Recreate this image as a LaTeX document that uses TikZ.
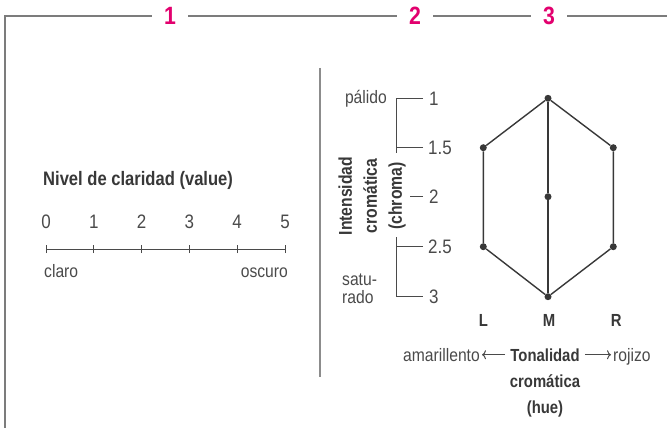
\documentclass[tikz,border=0pt]{standalone}
\usepackage{fontspec}
\setmainfont{Liberation Sans}[FakeStretch=0.87]
\newfontfamily\condbold{Liberation Sans Bold}[FakeStretch=0.85]
\usetikzlibrary{positioning,arrows.meta}
\definecolor{pinkred}{HTML}{E2006E}
\definecolor{framegray}{HTML}{7C7C7C}
\definecolor{inkgray}{HTML}{4A4A4A}
\definecolor{hexgray}{HTML}{383838}
\tikzset{
	txt/.style={inner sep=0pt, text=inkgray, font=\fontsize{18}{18}\selectfont},
	num/.style={inner sep=0pt, text=inkgray, font=\fontsize{19.5}{20}\selectfont},
	lbl/.style={inner sep=0pt, text=hexgray, font=\condbold\fontsize{17.5}{25}\selectfont, align=center},
	stepnum/.style={inner xsep=12pt, inner ysep=0pt, text=pinkred, font=\condbold\fontsize{25}{25}\selectfont},
	frame/.style={draw=framegray, line width=1.5pt},
	tick/.style={draw=inkgray, line width=1pt},
	dot/.style={circle, fill=hexgray, inner sep=0pt, minimum size=7pt},
	edge/.style={draw=hexgray, line width=1.4pt},
}

\begin{document}
\begin{tikzpicture}[x=1pt, y=-1pt]
			%%%%% START %%%%%
			\useasboundingbox (0,0) rectangle (667,428);

			% header with the three step numbers
			\node[stepnum] (s1) at (170,16) {1};
			\node[stepnum] (s2) at (415,16) {2};
			\node[stepnum] (s3) at (549,16) {3};
			\coordinate (fbot) at (5,428);
			\coordinate (fcorner) at (5,16);
			\coordinate (fend) at (667,16);
			\draw[frame, line join=miter] (fbot) -- (fcorner) -- (s1.west);
			\draw[frame] (s1.east) -- (s2.west);
			\draw[frame] (s2.east) -- (s3.west);
			\draw[frame] (s3.east) -- (fend);

			\coordinate (sepT) at (320,68);
			\coordinate (sepB) at (320,377);
			\draw[draw=black!45, line width=1.5pt] (sepT) -- (sepB);

			% value scale
			\node[lbl, anchor=base west, font=\condbold\fontsize{19.5}{20}\selectfont] (vtitle) at (43,185) {Nivel de claridad (value)};
			\foreach \i in {0,...,5} {
				\coordinate (v\i) at ({46+47.8*\i},249);
				\draw[tick] ([yshift=-4pt]v\i) -- ([yshift=4pt]v\i);
				\node[num] (n\i) at ({46+47.8*\i},221.5) {\i};
			}
			\draw[tick] (v0) -- (v5);
			\node[txt, anchor=base west] (claro) at (44,277) {claro};
			\node[txt, anchor=base east] (oscuro) at (288,277) {oscuro};

			% chroma scale
			\coordinate (c1) at (423,98.3);
			\coordinate (c15) at (423,147.7);
			\coordinate (c2) at (423,196.7);
			\coordinate (c25) at (423,246.7);
			\coordinate (c3) at (423,296.7);
			\draw[tick] (c1) -| (396,153);
			\draw[tick] (c15) -- (396,147.7);
			\draw[tick] (c2) -- +(-13,0);
			\draw[tick] (396,237) |- (c3);
			\draw[tick] (c25) -- (396,246.7);
			\node[num, anchor=west] (l1) at ([xshift=6pt]c1) {1};
			\node[num, anchor=west] (l15) at ([xshift=5pt]c15) {1.5};
			\node[num, anchor=west] (l2) at ([xshift=6pt]c2) {2};
			\node[num, anchor=west] (l25) at ([xshift=5pt]c25) {2.5};
			\node[num, anchor=west] (l3) at ([xshift=6pt]c3) {3};
			\node[txt, anchor=base east] (palido) at (387,103) {pálido};
			\node[txt, anchor=west, align=left] (saturado) at (342,289) {satu-\\rado};
			\node[lbl, rotate=90, font=\condbold\fontsize{18.5}{25}\selectfont] (chroma) at (372,196) {Intensidad\\cromática\\(chroma)};

			% hue hexagon
			\node[dot] (hT) at (548,98.3) {};
			\node[dot] (hUL) at (483.3,147.7) {};
			\node[dot] (hUR) at (613.3,147.7) {};
			\node[dot] (hC) at (548,196.7) {};
			\node[dot] (hLL) at (483.3,246.7) {};
			\node[dot] (hLR) at (613.3,246.7) {};
			\node[dot] (hB) at (548,296.7) {};
			\draw[edge] (hT) -- (hUL) -- (hLL) -- (hB) -- (hLR) -- (hUR) -- (hT);
			\draw[edge] (hT) -- (hC) -- (hB);

			\node[lbl, below=14pt of hB, xshift=1pt] (hueM) {M};
			\node[lbl] (hueL) at (hLL |- hueM) {L};
			\node[lbl, xshift=3pt] (hueR) at (hLR |- hueM) {R};

			% hue caption
			\node[lbl, anchor=base] (tona) at (545,361) {Tonalidad};
			\node[lbl, anchor=base] (cromatica) at (545,387) {cromática};
			\node[lbl, anchor=base] (hue) at (545,413) {(hue)};
			\node[txt, anchor=base east] (amar) at (480,361) {amarillento};
			\node[txt, anchor=base west] (roj) at (613,361) {rojizo};
			\draw[tick, -{To[length=4pt,width=9pt]}, shorten <=5pt, shorten >=2pt] (tona.west) -- (amar.east |- tona.west);
			\draw[tick, -{To[length=4pt,width=9pt]}, shorten <=5pt, shorten >=2pt] (tona.east) -- (roj.west |- tona.east);

			%%%%% END %%%%%
		\end{tikzpicture}
\end{document}
